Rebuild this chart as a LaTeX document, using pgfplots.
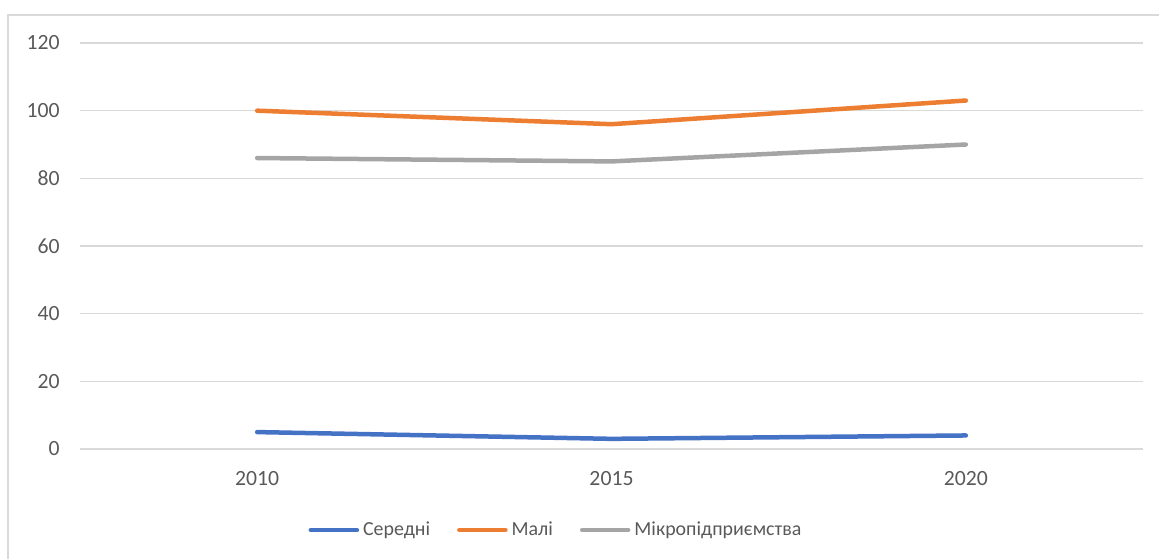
\documentclass[border=0pt]{standalone}
\usepackage{pgfplots}
\pgfplotsset{compat=1.18}
\usepackage{fontspec}
\setmainfont{Carlito}
\definecolor{txt}{HTML}{595959}
\definecolor{gridc}{HTML}{D9D9D9}
\definecolor{cblue}{HTML}{4472C4}
\definecolor{corange}{HTML}{ED7D31}
\definecolor{cgray}{HTML}{A5A5A5}
\begin{document}
\begin{tikzpicture}
\fontsize{11}{14}\selectfont
\draw[gridc, line width=0.75bp] (4bp,272bp) rectangle (590bp,-10bp);
\begin{axis}[
  at={(40bp,55bp)}, anchor=south west,
  scale only axis, width=531.5bp, height=203bp,
  xmin=-0.5, xmax=2.5, ymin=0, ymax=120,
  enlargelimits=false,
  axis line style={draw=none},
  xtick={0,1,2}, xticklabels={2010,2015,2020},
  ytick={0,20,...,120},
  major tick length=0pt,
  ymajorgrids, grid style={gridc, line width=0.75bp},
  /pgf/number format/assume math mode=true,
  tick label style={font=\fontsize{10.9}{14}\selectfont, text=txt},
  yticklabel style={anchor=east, inner sep=0pt, xshift=-10bp},
  xticklabel style={anchor=north, inner sep=0pt, yshift=-11bp},
  legend columns=3,
  legend style={at={(0.4469,-0.1995)}, anchor=center, draw=none, fill=none,
    font=\fontsize{10}{12}\selectfont, text=txt, inner sep=0pt,
    /tikz/every even column/.append style={column sep=13.5bp},
    nodes={inner sep=0pt}},
  legend image code/.code={\draw[#1, line cap=round] (0bp,0bp) -- (23bp,0bp);},
  every axis plot/.append style={line width=2.25bp, line cap=round, line join=round, mark=none},
  clip=false,
]
\addplot[cblue] coordinates {(0,5) (1,3) (2,4)};
\addlegendentry{\hspace{2bp}Середні}
\addplot[corange] coordinates {(0,100) (1,96) (2,103)};
\addlegendentry{\hspace{2bp}Малі}
\addplot[cgray] coordinates {(0,86) (1,85) (2,90)};
\addlegendentry{\hspace{2bp}Мікропідприємства}
\end{axis}
\pgfresetboundingbox
\path (0bp,0bp) rectangle (579.5bp,279.5bp);
\end{tikzpicture}
\end{document}
